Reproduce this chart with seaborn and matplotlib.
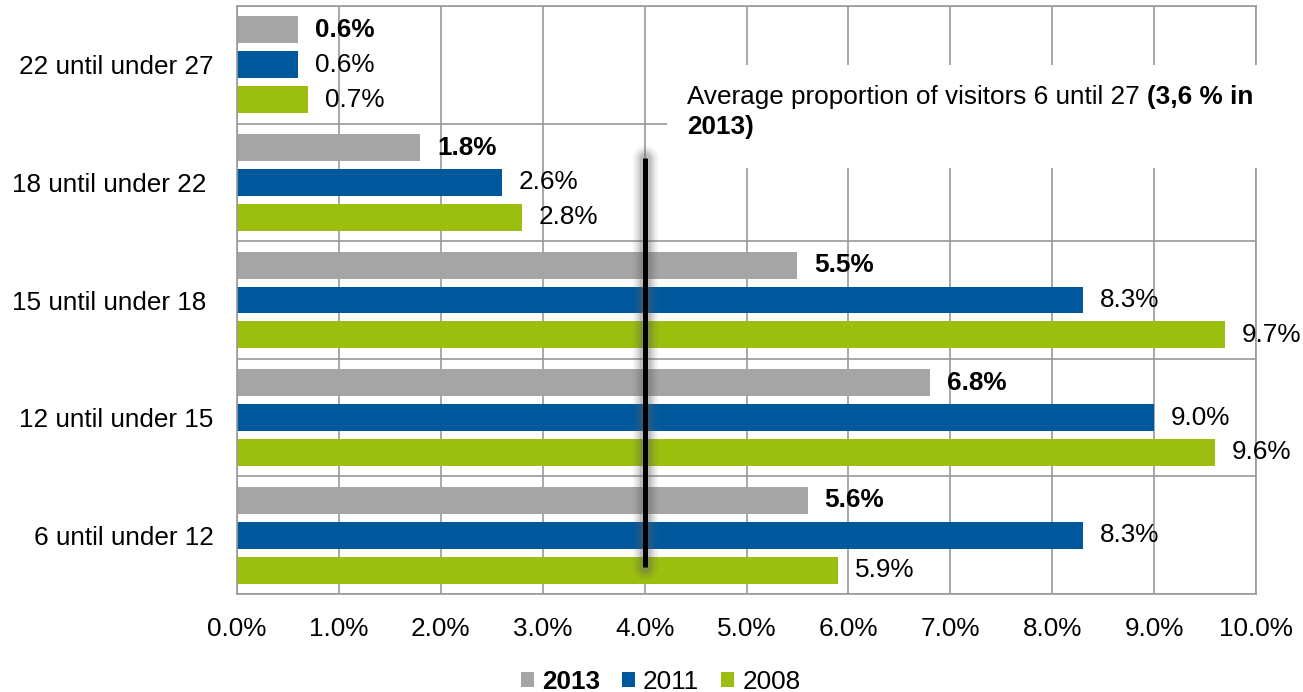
import pandas as pd
import numpy as np
import matplotlib.pyplot as plt
import seaborn as sns
from matplotlib.patches import Rectangle

# values (percent of visitors)
age_groups = [
    '22 until under 27',
    '18 until under 22 ',
    '15 until under 18 ',
    '12 until under 15',
    '6 until under 12',
]
years = ['2013', '2011', '2008']
share_2013 = [0.6, 1.8, 5.5, 6.8, 5.6]
share_2011 = [0.6, 2.6, 8.3, 9.0, 8.3]
share_2008 = [0.7, 2.8, 9.7, 9.6, 5.9]
x_ticks = [0, 1, 2, 3, 4, 5, 6, 7, 8, 9, 10]
x_tick_labels = ['0.0%', '1.0%', '2.0%', '3.0%', '4.0%', '5.0%',
                 '6.0%', '7.0%', '8.0%', '9.0%', '10.0%']
avg_line = 4.0
note_plain = 'Average proportion of visitors 6 until 27 '
note_bold_1 = '(3,6 % in'
note_bold_2 = '2013)'

colors = {'2013': '#a5a5a5', '2011': '#00589c', '2008': '#9bbe0f'}
grid_col = '#9a9a9a'

df = pd.DataFrame({
    'group': age_groups * 3,
    'year': ['2013'] * 5 + ['2011'] * 5 + ['2008'] * 5,
    'share': share_2013 + share_2011 + share_2008,
})

sns.set_theme(style='white')
plt.rcParams['font.family'] = ['Liberation Sans', 'DejaVu Sans']
plt.rcParams['text.color'] = 'black'
fs = 18.8

fig = plt.figure(figsize=(13.03, 6.92), dpi=100)
ax = fig.add_axes([237 / 1303, 1 - 594 / 692, 1019 / 1303, 588 / 692])

sns.barplot(data=df, y='group', x='share', hue='year', order=age_groups,
            hue_order=years, palette=colors, orient='h', width=0.89, gap=0.23,
            saturation=1, linewidth=0, ax=ax, legend=True)

ax.set_xlim(0, 10)
ax.set_ylim(4.5, -0.5)
ax.set_xticks(x_ticks)
ax.set_xticklabels(x_tick_labels, fontsize=fs, color='black')
ax.set_yticks(range(len(age_groups)))
ax.set_yticklabels(age_groups, fontsize=fs, color='black')
ax.set_yticks(np.arange(-0.5, 5, 1), minor=True)
ax.tick_params(axis='x', length=0, pad=16.5)
ax.tick_params(axis='y', which='both', length=0, pad=17)
ax.set_xlabel('')
ax.set_ylabel('')

ax.set_axisbelow(True)
ax.grid(axis='x', which='major', color=grid_col, lw=1.2)
ax.grid(axis='y', which='minor', color=grid_col, lw=1.2)
for sp in ax.spines.values():
    sp.set_color(grid_col)
    sp.set_linewidth(1.2)

# value labels
for cont, yr in zip(ax.containers, years):
    ax.bar_label(cont, fmt='{:.1f}%', padding=12, fontsize=fs, color='black',
                 fontweight='bold' if yr == '2013' else 'normal')

# average line with soft shadow
for lw, a in [(18, 0.08), (14, 0.1), (11, 0.13), (8, 0.18)]:
    ax.plot([avg_line, avg_line], [0.79, 4.27], color='#606060', lw=lw,
            alpha=a, solid_capstyle='round', zorder=4)
ax.plot([avg_line, avg_line], [0.79, 4.27], color='black', lw=3.6,
        solid_capstyle='butt', zorder=5)

# white box behind the note
ax.add_patch(Rectangle((0.422, 0.7245), 0.62, 0.1755, transform=ax.transAxes,
                       facecolor='white', edgecolor='none', zorder=3,
                       clip_on=False))
t1 = ax.text(0.4416, 0.833, note_plain, transform=ax.transAxes,
             fontsize=fs, va='baseline', ha='left', zorder=6)
ax.annotate(note_bold_1, xy=(1, 0), xycoords=t1, va='bottom', ha='left',
            fontsize=fs, fontweight='bold', zorder=6)
ax.text(0.4416, 0.782, note_bold_2, transform=ax.transAxes, fontsize=fs,
        fontweight='bold', va='baseline', ha='left', zorder=6)

handles, labels = ax.get_legend_handles_labels()
leg = ax.legend(handles, labels, loc='center', ncol=3,
                bbox_to_anchor=(0.507, 0.015), bbox_transform=fig.transFigure,
                frameon=False, fontsize=fs, handlelength=0.5,
                handleheight=0.5, handletextpad=0.3, columnspacing=0.85)
leg.get_texts()[0].set_fontweight('bold')

fig.savefig('out.png', dpi=100)
